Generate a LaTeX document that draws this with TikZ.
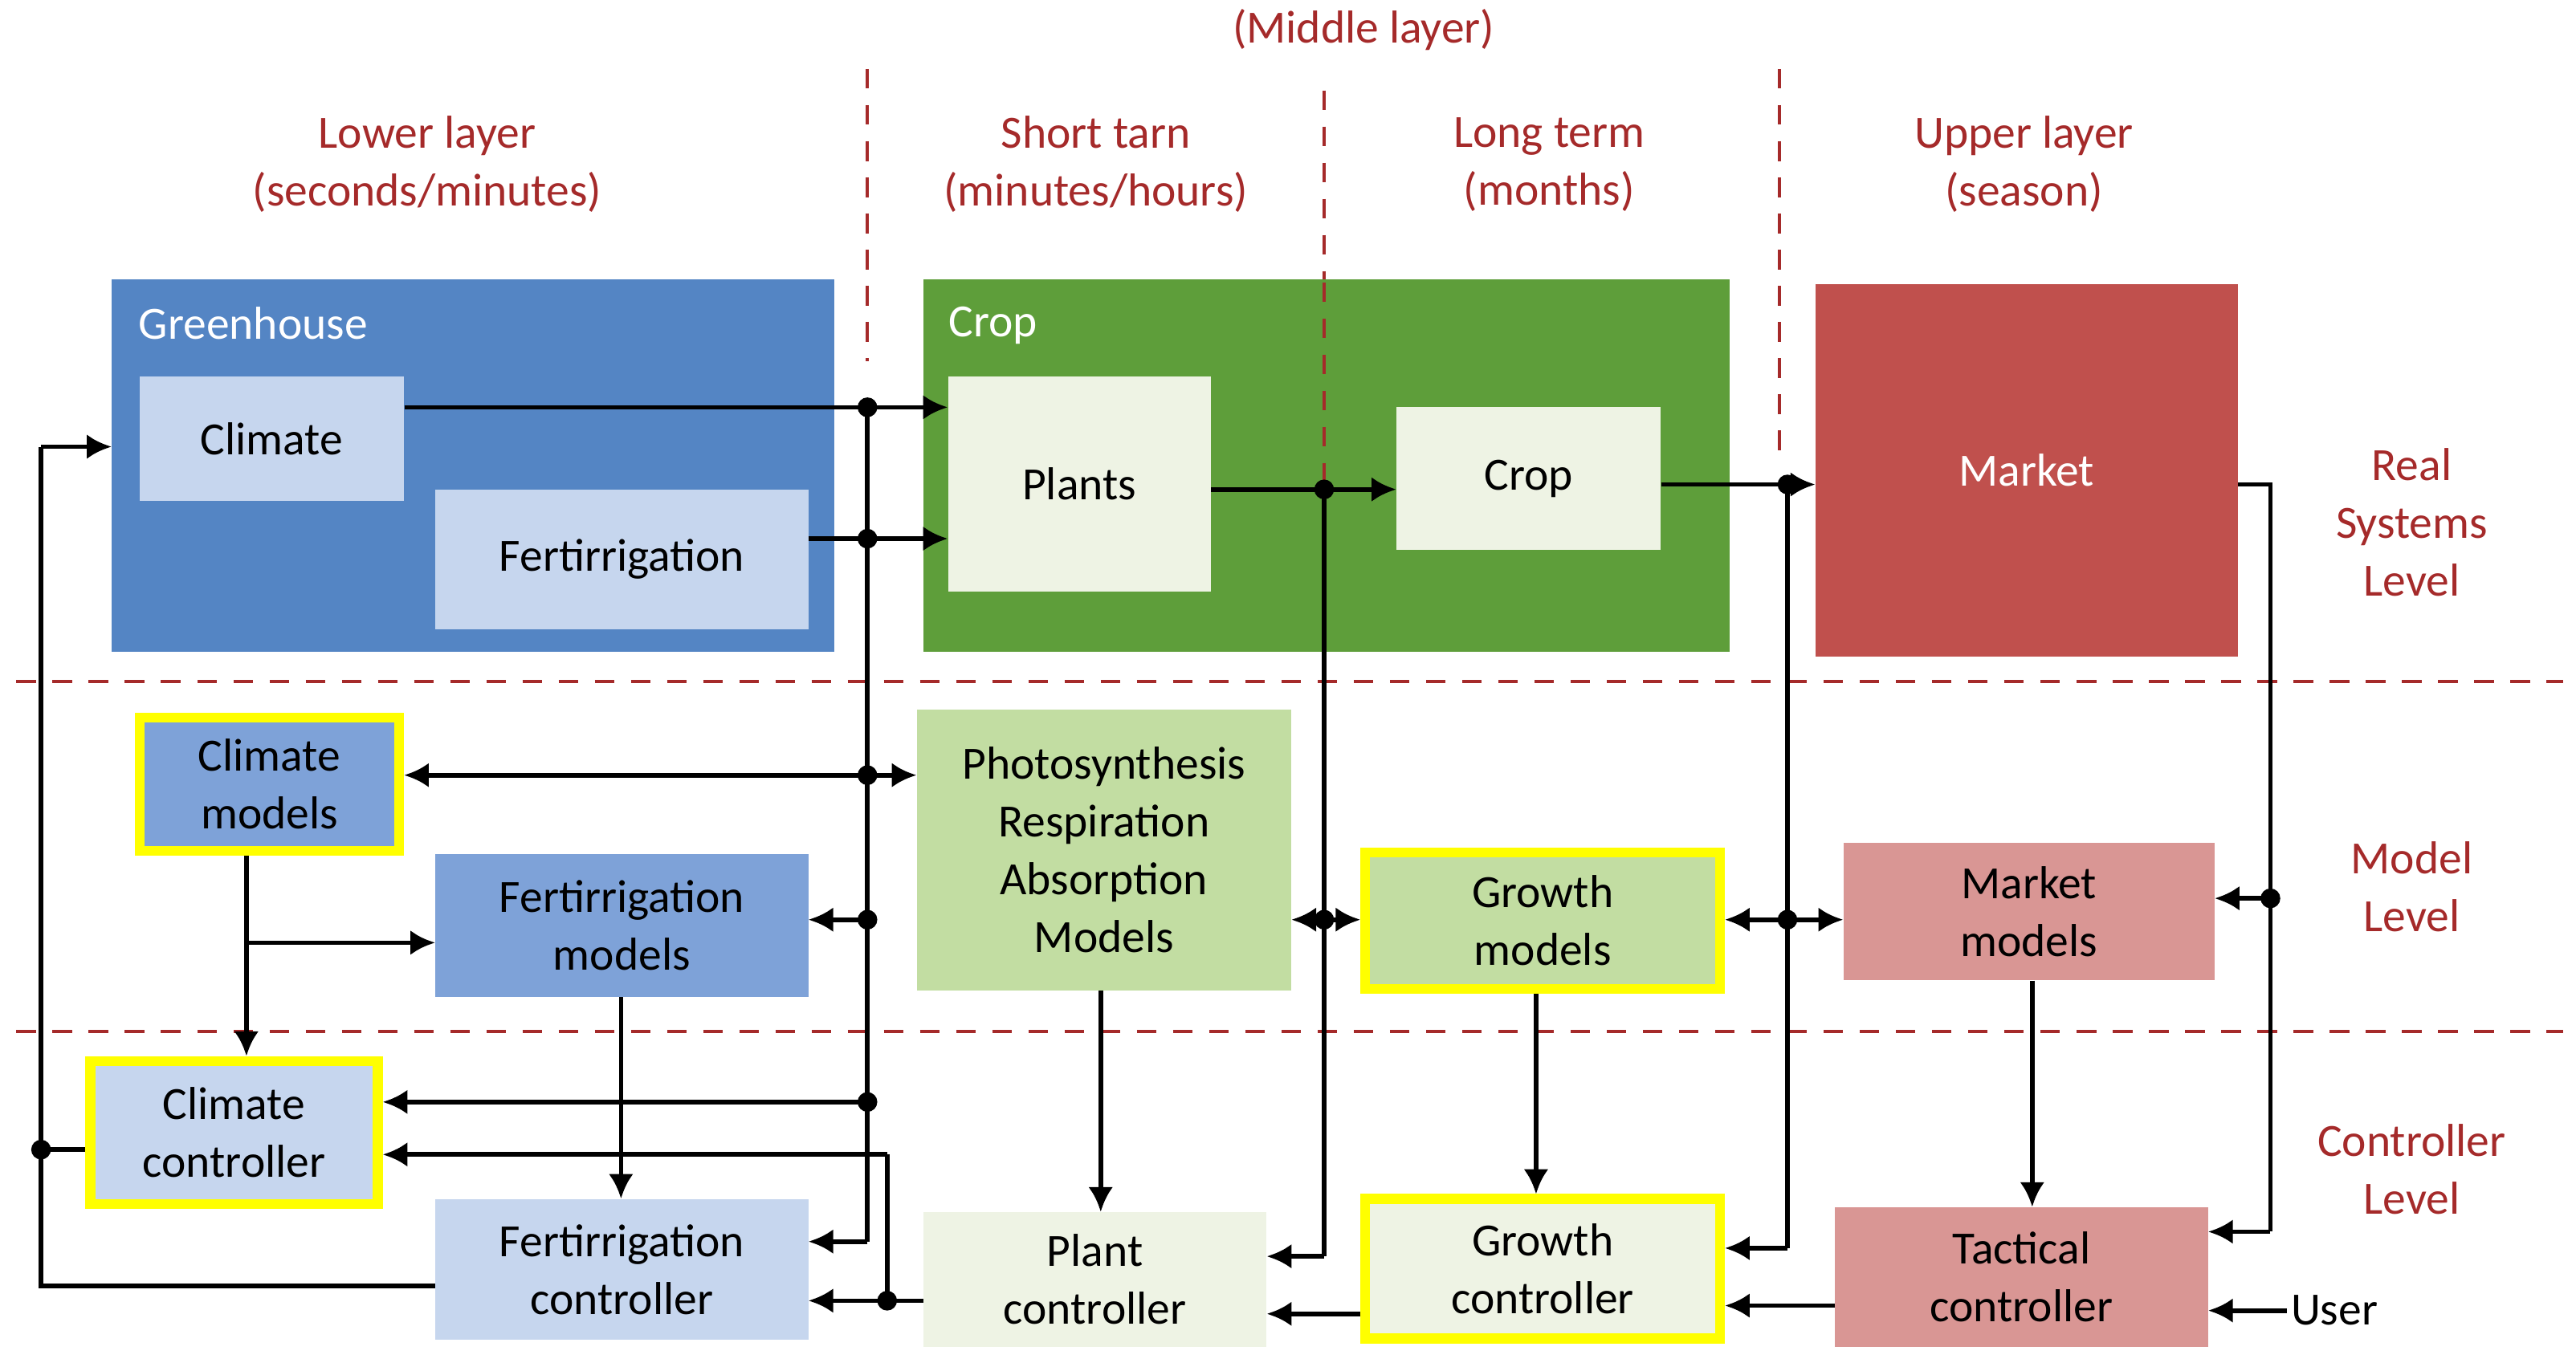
\documentclass[tikz,border=0pt]{standalone}
\usepackage{fontspec}
\setmainfont{Carlito}
\usetikzlibrary{arrows.meta,calc}
\definecolor{ghb}{HTML}{5485C4}
\definecolor{lb}{HTML}{C6D6EE}
\definecolor{mb}{HTML}{7EA2D8}
\definecolor{gr}{HTML}{5E9E3A}
\definecolor{lg}{HTML}{EEF3E4}
\definecolor{mg}{HTML}{C2DDA2}
\definecolor{rd}{HTML}{C0504D}
\definecolor{pk}{HTML}{D99694}
\definecolor{dr}{HTML}{A52A2A}
\definecolor{yl}{HTML}{FFFF00}
\newcommand{\bx}[7]{\node[box,#6,minimum width={(#4-#2)*0.05cm},minimum height={(#5-#3)*0.05cm}] (#1) at ({(#2+#4)/2},{(#3+#5)/2}) {#7};}
\begin{document}
\begin{tikzpicture}[x=0.05cm,y=-0.05cm,
  every node/.style={font=\fontsize{40}{50}\selectfont},
  box/.style={draw=none,inner sep=0pt,align=center},
  hl/.style={draw=yl,line width=0.3cm},
  lay/.style={text=dr,align=center},
  dl/.style={dr,line width=0.1cm,dash pattern=on 0.6cm off 0.5cm},
  c/.style={line width=0.14cm},
  a/.style={c,-{Latex[length=0.75cm,width=0.75cm]}},
  aa/.style={c,{Latex[length=0.75cm,width=0.75cm]}-{Latex[length=0.75cm,width=0.75cm]}},
  dot/.style={circle,fill=black,inner sep=0pt,minimum size=0.6cm}]
\useasboundingbox (0,0) rectangle (1568,832);
% layer lines
\draw[dl] (10,415) -- (1560,415);
\draw[dl] (10,628) -- (1560,628);
\draw[dl] (528,42) -- (528,220);
\draw[dl] (806,55) -- (806,172);
\draw[dl] (1083,42) -- (1083,275);
% headers
\node[lay] (mid) at (830,18) {(Middle layer)};
\node[lay] (h1) at (260,100) {Lower layer\\(seconds/minutes)};
\node[lay] (h2) at (667,100) {Short tarn\\(minutes/hours)};
\node[lay] (h3) at (943,100) {Long term\\(months)};
\node[lay] (h4) at (1232,100) {Upper layer\\(season)};
\node[lay] (l1) at (1468,318) {Real\\Systems\\Level};
\node[lay] (l2) at (1468,540) {Model\\Level};
\node[lay] (l3) at (1468,712) {Controller\\Level};
% real systems
\bx{gh}{68}{170}{508}{397}{fill=ghb}{}
\node[text=white,anchor=west] (ght) at (82,197) {Greenhouse};
\bx{cr}{562}{170}{1053}{397}{fill=gr}{}
\node[text=white,anchor=west] (crt) at (575,198) {Crop};
\draw[dl] (806,172) -- (806,295);
\bx{clim}{85}{229}{246}{305}{fill=lb}{Climate}
\bx{fert}{265}{298}{492}{383}{fill=lb}{Fertirrigation}
\bx{plants}{577}{229}{737}{360}{fill=lg}{Plants}
\bx{crop}{850}{248}{1011}{335}{fill=lg}{Crop}
\bx{mkt}{1105}{173}{1362}{400}{fill=rd,text=white}{Market}
% models
\bx{cm}{85}{437}{243}{518}{fill=mb,hl}{Climate\\models}
\bx{fm}{265}{520}{492}{607}{fill=mb}{Fertirrigation\\models}
\bx{ph}{558}{432}{786}{603}{fill=mg}{Photosynthesis\\Respiration\\Absorption\\Models}
\bx{gm}{831}{519}{1047}{602}{fill=mg,hl}{Growth\\models}
\bx{mm}{1122}{513}{1348}{597}{fill=pk}{Market\\models}
% controllers
\bx{cc}{55}{646}{230}{733}{fill=lb,hl}{Climate\\controller}
\bx{fc}{265}{730}{492}{816}{fill=lb}{Fertirrigation\\controller}
\bx{pc}{562}{738}{771}{820}{fill=lg}{Plant\\controller}
\bx{gc}{831}{730}{1047}{815}{fill=lg,hl}{Growth\\controller}
\bx{tc}{1117}{735}{1344}{820}{fill=pk}{Tactical\\controller}
\node[anchor=west] (user) at (1392,798) {User};
% bus coordinates
\coordinate (b1) at (528,248);
\coordinate (b2) at (806,298);
\coordinate (b3) at (1088,295);
\coordinate (b4) at (1382,295);
\coordinate (b5) at (540,792);
\coordinate (b6) at (25,783);
% lower layer bus
\draw[a] (clim.east |- b1) -- (plants.west |- b1);
\draw[a] (fert.east |- 0,328) -- (plants.west |- 0,328);
\draw[c] (b1) -- (528,756);
\draw[aa] (cm.east |- 0,472) -- (ph.west |- 0,472);
\draw[a] (528,560) -- (fm.east |- 0,560);
\draw[a] (528,671) -- (cc.east |- 0,671);
\draw[a] (528,756) -- (fc.east |- 0,756);
\foreach \y in {248,328,472,560,671} \node[dot] at (528,\y) {};
% short/long term bus
\draw[a] (plants.east |- b2) -- (crop.west |- b2);
\draw[c] (b2) -- (806,765);
\draw[a] (806,765) -- (pc.east |- 0,765);
\draw[a] (806,560) -- (ph.east |- 0,560);
\draw[a] (806,560) -- (gm.west |- 0,560);
\node[dot] at (b2) {};
\node[dot] at (806,560) {};
% upper bus
\draw[a] (crop.east |- b3) -- (mkt.west |- b3);
\draw[c] (b3) -- (1088,760);
\draw[a] (1088,760) -- (gc.east |- 0,760);
\draw[a] (1088,560) -- (gm.east |- 0,560);
\draw[a] (1088,560) -- (mm.west |- 0,560);
\node[dot] at (b3) {};
\node[dot] at (1088,560) {};
% market bus
\draw[c] (mkt.east |- b4) -- (b4) -- (1382,750);
\draw[a] (1382,750) -- (tc.east |- 0,750);
\draw[a] (1382,547) -- (mm.east |- 0,547);
\node[dot] at (1382,547) {};
\draw[a] (user.west) -- (tc.east |- user.west);
% controller chain
\draw[a] (tc.west |- 0,795) -- (gc.east |- 0,795);
\draw[a] (gc.west |- 0,800) -- (pc.east |- 0,800);
\draw[a] (pc.west |- b5) -- (fc.east |- b5);
\draw[c] (b5) -- (540,703);
\draw[a] (540,703) -- (cc.east |- 0,703);
\node[dot] at (b5) {};
% outer feedback loop
\draw[c] (fc.west |- b6) -- (b6) -- (25,272);
\draw[a] (25,272) -- (gh.west |- 0,272);
\draw[c] (25,700) -- (cc.west |- 0,700);
\node[dot] at (25,700) {};
% vertical model->controller
\draw[a] (cm.south -| 150,0) -- (cc.north -| 150,0);
\draw[a] (150,574) -- (fm.west |- 0,574);
\draw[a] (fm.south -| 378,0) -- (fc.north -| 378,0);
\draw[a] (ph.south -| 670,0) -- (pc.north -| 670,0);
\draw[a] (gm.south -| 935,0) -- (gc.north -| 935,0);
\draw[a] (mm.south -| 1237,0) -- (tc.north -| 1237,0);
\end{tikzpicture}
\end{document}
